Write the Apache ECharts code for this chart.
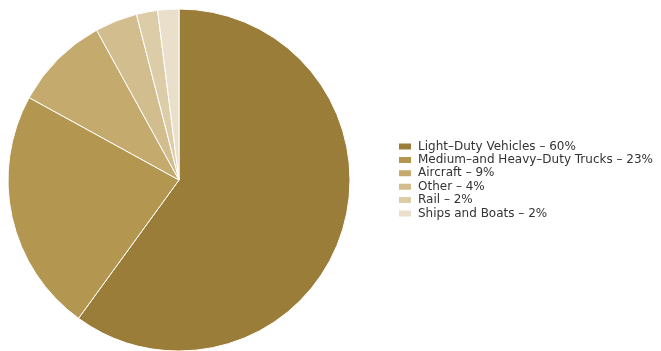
<!DOCTYPE html>
<html><head><meta charset="utf-8">
<script src="https://cdn.jsdelivr.net/npm/echarts@6/dist/echarts.min.js"></script>
<style>html,body{margin:0;padding:0;background:#fff}#c{width:661px;height:351px}</style>
</head><body><div id="c"></div>
<script>
var categories = ["Light–Duty Vehicles", "Medium–and Heavy–Duty Trucks", "Aircraft", "Other", "Rail", "Ships and Boats"];
var values = [60, 23, 9, 4, 2, 2];
var colors = ["#9b7d3a", "#b39650", "#c4aa6d", "#d2bd8e", "#ddcca8", "#e9dfca"];
var chart = echarts.init(document.getElementById('c'));
chart.setOption({
  animation: false,
  color: colors,
  legend: {
    orient: 'vertical', left: 397, top: 140, padding: 0,
    itemWidth: 14, itemHeight: 8, itemGap: 0.4,
    icon: 'rect',
    formatter: function (n) { return n + ' – ' + values[categories.indexOf(n)] + '%'; },
    textStyle: { fontFamily: 'DejaVu Sans', fontSize: 12, lineHeight: 13, color: '#333', padding: [0,0,0,1] },
    data: categories
  },
  series: [{
    type: 'pie', center: [179, 180], radius: 171, startAngle: 90, clockwise: true,
    label: { show: false }, labelLine: { show: false },
    itemStyle: { borderColor: '#fff', borderWidth: 1 },
    emphasis: { disabled: true },
    data: categories.map(function (c, i) { return { name: c, value: values[i] }; })
  }]
});
</script></body></html>
